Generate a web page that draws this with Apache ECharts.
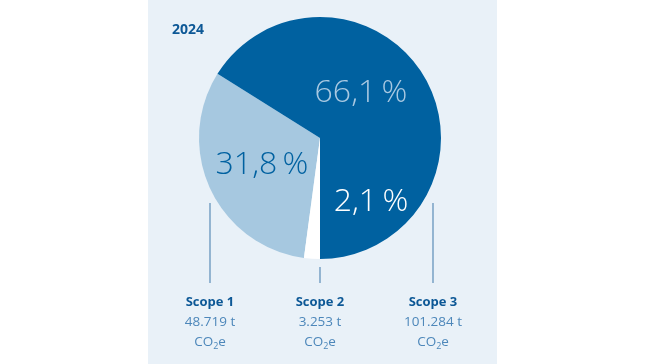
<!DOCTYPE html>
<html><head><meta charset="utf-8">
<script src="https://cdn.jsdelivr.net/npm/echarts@6/dist/echarts.min.js"></script>
<style>html,body{margin:0;padding:0;background:#fff}#c{width:650px;height:364px}</style>
</head><body><div id="c"></div>
<script>
// Data
const year = '2024';
const categories = ['Scope 1', 'Scope 2', 'Scope 3'];
const valuesT = [48.719, 3.253, 101.284];
const valueLabels = ['48.719 t', '3.253 t', '101.284 t'];
const pctLabels = ['31,8\u2009%', '2,1\u2009%', '66,1\u2009%'];

// Layout / style
const C = [320, 138], R = 121;
const colors = ['#A6C8E0', '#FFFFFF', '#0061A0'];
const FONT = '"Open Sans", "Noto Sans", sans-serif';
const total = valuesT.reduce((a, b) => a + b, 0);
// Scope 1 starts so that Scope 3 ends exactly at the bottom (270deg), counterclockwise
const startAngle = 270 - (valuesT[0] + valuesT[1]) / total * 360;

const chart = echarts.init(document.getElementById('c'), null, {renderer: 'canvas'});

const pctPos = [[262, 165, '#0061A0'], [371, 202, '#FFFFFF'], [361, 93, '#A9C9E2']];
const colX = [210, 320, 433];
const lineTop = [203, 267, 203];

const graphic = [
  {type: 'rect', z: -10, shape: {x: 148, y: 0, width: 349, height: 364}, style: {fill: '#E9F1F8'}},
  {type: 'text', left: 172, top: 23, style: {text: year, font: 'bold 14px ' + FONT, fill: '#0D5896'}}
];
pctLabels.forEach((t, i) => {
  graphic.push({type: 'text', z: 10, x: pctPos[i][0], y: pctPos[i][1],
    style: {text: t, font: '300 32px ' + FONT, fill: pctPos[i][2], align: 'center', verticalAlign: 'middle'}});
});
categories.forEach((cat, i) => {
  graphic.push({type: 'line', shape: {x1: colX[i], y1: lineTop[i], x2: colX[i], y2: 283},
    style: {stroke: '#5B8DB8', lineWidth: 1.2}});
  graphic.push({type: 'text', x: colX[i], y: 302,
    style: {text: cat, font: 'bold 13px ' + FONT, fill: '#0D5896', align: 'center', verticalAlign: 'middle'}});
  graphic.push({type: 'text', x: colX[i], y: 322,
    style: {text: valueLabels[i], font: '13.5px ' + FONT, fill: '#4D87BA', align: 'center', verticalAlign: 'middle'}});
  graphic.push({type: 'text', x: colX[i], y: 342,
    style: {text: '{a|CO}{b|2}{a|e}', align: 'center', verticalAlign: 'middle',
      rich: {a: {font: '13.5px ' + FONT, fill: '#4D87BA', color: '#4D87BA', lineHeight: 18, verticalAlign: 'middle'},
             b: {font: '9px ' + FONT, fill: '#4D87BA', color: '#4D87BA', lineHeight: 18, verticalAlign: 'bottom', padding: [8, 0, 0, 0]}}}});
});

chart.setOption({
  animation: false,
  backgroundColor: '#FFFFFF',
  graphic: graphic,
  series: [{
    type: 'pie',
    center: C,
    radius: [0, R],
    startAngle: startAngle,
    clockwise: false,
    label: {show: false},
    labelLine: {show: false},
    itemStyle: {borderWidth: 0},
    emphasis: {disabled: true},
    data: categories.map((c, i) => ({name: c, value: valuesT[i], itemStyle: {color: colors[i]}}))
  }]
});
</script></body></html>
